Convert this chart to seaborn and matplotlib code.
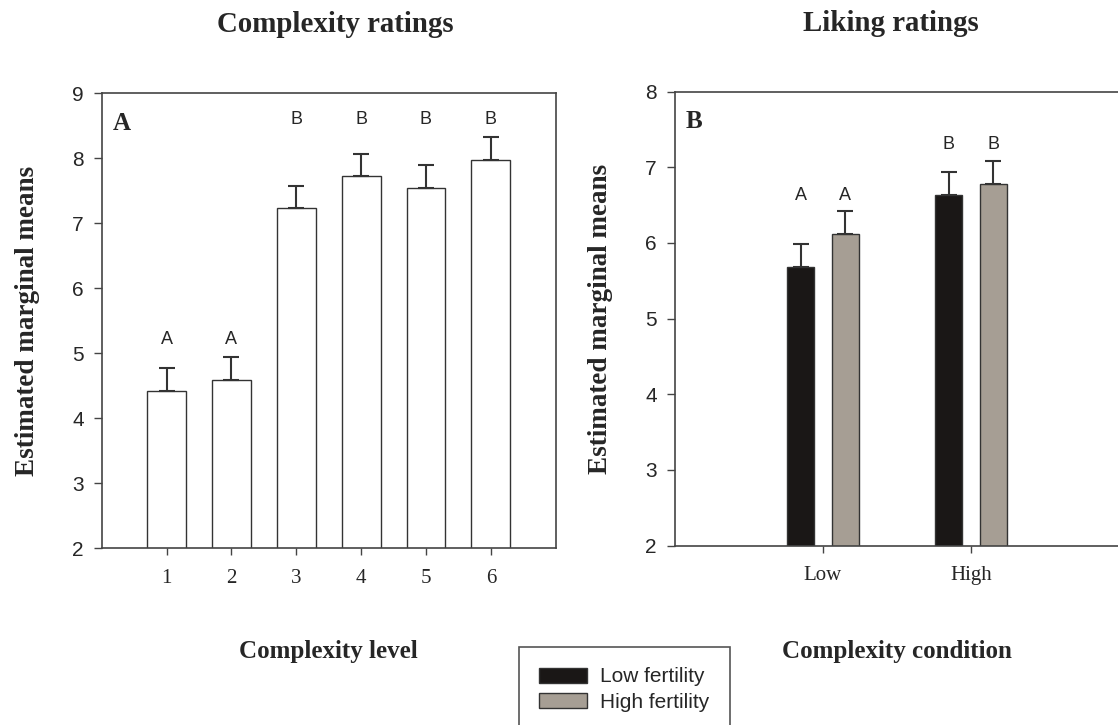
import numpy as np
import pandas as pd
import matplotlib
matplotlib.use('Agg')
import matplotlib.pyplot as plt
from matplotlib.patches import Patch
from matplotlib.container import BarContainer
import seaborn as sns

# --- data ---
levels = ['1', '2', '3', '4', '5', '6']
complexity_means = [4.42, 4.59, 7.23, 7.72, 7.55, 7.98]
complexity_se = [0.35, 0.35, 0.34, 0.35, 0.34, 0.35]
complexity_letters = ['A', 'A', 'B', 'B', 'B', 'B']

conditions = ['Low', 'High']
fertility = ['Low fertility', 'High fertility']
liking_low_fert = [5.68, 6.63]
liking_high_fert = [6.12, 6.78]
liking_low_fert_se = [0.31, 0.31]
liking_high_fert_se = [0.30, 0.31]
liking_letters = ['A', 'B']

bar_colors = ['#1a1716', '#a69e94']
edge = '#333333'
serif = 'Liberation Serif'
sans = 'Liberation Sans'

sns.set_style('white')
plt.rcParams['font.family'] = [sans, 'DejaVu Sans']

W, H = 1118, 725
fig = plt.figure(figsize=(W / 100, H / 100), dpi=100)
ax1 = fig.add_axes([101.7 / W, 1 - 548.3 / H, 454 / W, 455 / H])
ax2 = fig.add_axes([675 / W, 1 - 545.5 / H, 444 / W, 453.8 / H])

# panel A
df1 = pd.DataFrame({'level': levels, 'mean': complexity_means})
sns.barplot(data=df1, x='level', y='mean', order=levels, color='white',
            saturation=1, edgecolor=edge, linewidth=1, width=0.6,
            errorbar=None, ax=ax1)

bars1 = list(ax1.patches)
tops = {}
for bar in bars1:
    xc = bar.get_x() + bar.get_width() / 2
    i = int(round(xc))
    ax1.errorbar(xc, bar.get_height(), yerr=[[0], [complexity_se[i]]],
                 color=edge, lw=1.5, capsize=5.5, capthick=1.5)
    tops.setdefault(complexity_letters[i], []).append(bar.get_height() + complexity_se[i])
for bar in bars1:
    xc = bar.get_x() + bar.get_width() / 2
    lt = complexity_letters[int(round(xc))]
    ax1.annotate(lt, (xc, max(tops[lt])), xytext=(0, 12.5), textcoords='offset points',
                 ha='center', va='center', fontsize=13, fontfamily=sans)

# panel B
df2 = pd.DataFrame({
    'condition': conditions * 2,
    'fertility': [fertility[0]] * 2 + [fertility[1]] * 2,
    'mean': liking_low_fert + liking_high_fert,
})
se2 = {fertility[0]: liking_low_fert_se, fertility[1]: liking_high_fert_se}
sns.barplot(data=df2, x='condition', y='mean', hue='fertility', order=conditions,
            hue_order=fertility, palette=bar_colors, saturation=1, width=0.6, gap=0.4,
            edgecolor=edge, linewidth=1, errorbar=None, legend=False, ax=ax2)

bar_conts = [c for c in ax2.containers if isinstance(c, BarContainer)]
tops2 = {}
bars2 = []
for hi, cont in enumerate(bar_conts):
    for bar in cont:
        xc = bar.get_x() + bar.get_width() / 2
        i = int(round(xc))
        e = se2[fertility[hi]][i]
        ax2.errorbar(xc, bar.get_height(), yerr=[[0], [e]],
                     color=edge, lw=1.5, capsize=5.5, capthick=1.5)
        tops2.setdefault(liking_letters[i], []).append(bar.get_height() + e)
        bars2.append(xc)
for xc in bars2:
    lt = liking_letters[int(round(xc))]
    ax2.annotate(lt, (xc, max(tops2[lt])), xytext=(0, 11.5), textcoords='offset points',
                 ha='center', va='center', fontsize=13, fontfamily=sans)

# axes styling
for ax, ylim, nx, letter, title, tx, xlab, xly, ylx in [
        (ax1, (2, 9), len(levels), 'A', 'Complexity ratings', 0.514, 'Complexity level', -0.241, -0.150),
        (ax2, (2, 8), len(conditions), 'B', 'Liking ratings', 0.486, 'Complexity condition', -0.248, -0.153)]:
    ax.set_ylim(*ylim)
    ax.set_xlim(-1, nx)
    ax.set_yticks(range(ylim[0], ylim[1] + 1))
    for s in ax.spines.values():
        s.set_color('#444444')
        s.set_linewidth(1.2)
    ax.tick_params(axis='y', left=True, direction='out', length=6, width=1,
                   pad=7, labelsize=15, color='#444444')
    ax.tick_params(axis='x', bottom=True, direction='out', length=5, width=1,
                   pad=10, labelsize=15, color='#444444')
    for lbl in ax.get_xticklabels():
        lbl.set_fontfamily(serif)
    ax.set_xlabel(xlab, fontfamily=serif, fontweight='bold', fontsize=18, va='baseline')
    ax.xaxis.set_label_coords(0.5, xly)
    ax.set_ylabel('Estimated marginal means', fontfamily=serif, fontweight='bold',
                  fontsize=19.5, va='baseline')
    ax.yaxis.set_label_coords(ylx, 0.5)
    ax.set_title(title, fontfamily=serif, fontweight='bold', fontsize=20.8,
                 x=tx, y=1.1347, pad=0)
    ax.text(0.025, 0.919, letter, transform=ax.transAxes, fontfamily=serif,
            fontweight='bold', fontsize=18, va='baseline', ha='left')

handles = [Patch(facecolor=c, edgecolor=edge, linewidth=1) for c in bar_colors]
leg = fig.legend(handles, fertility, loc='upper left', bbox_to_anchor=(519 / W, 1 - 647 / H),
                 borderaxespad=0, frameon=True, fancybox=False, edgecolor='#555555',
                 framealpha=1, fontsize=15, handlelength=2.3, handleheight=0.75,
                 borderpad=0.98, labelspacing=0.32, handletextpad=0.62)
leg.get_frame().set_linewidth(1.2)

fig.savefig('out.png', dpi=100)
